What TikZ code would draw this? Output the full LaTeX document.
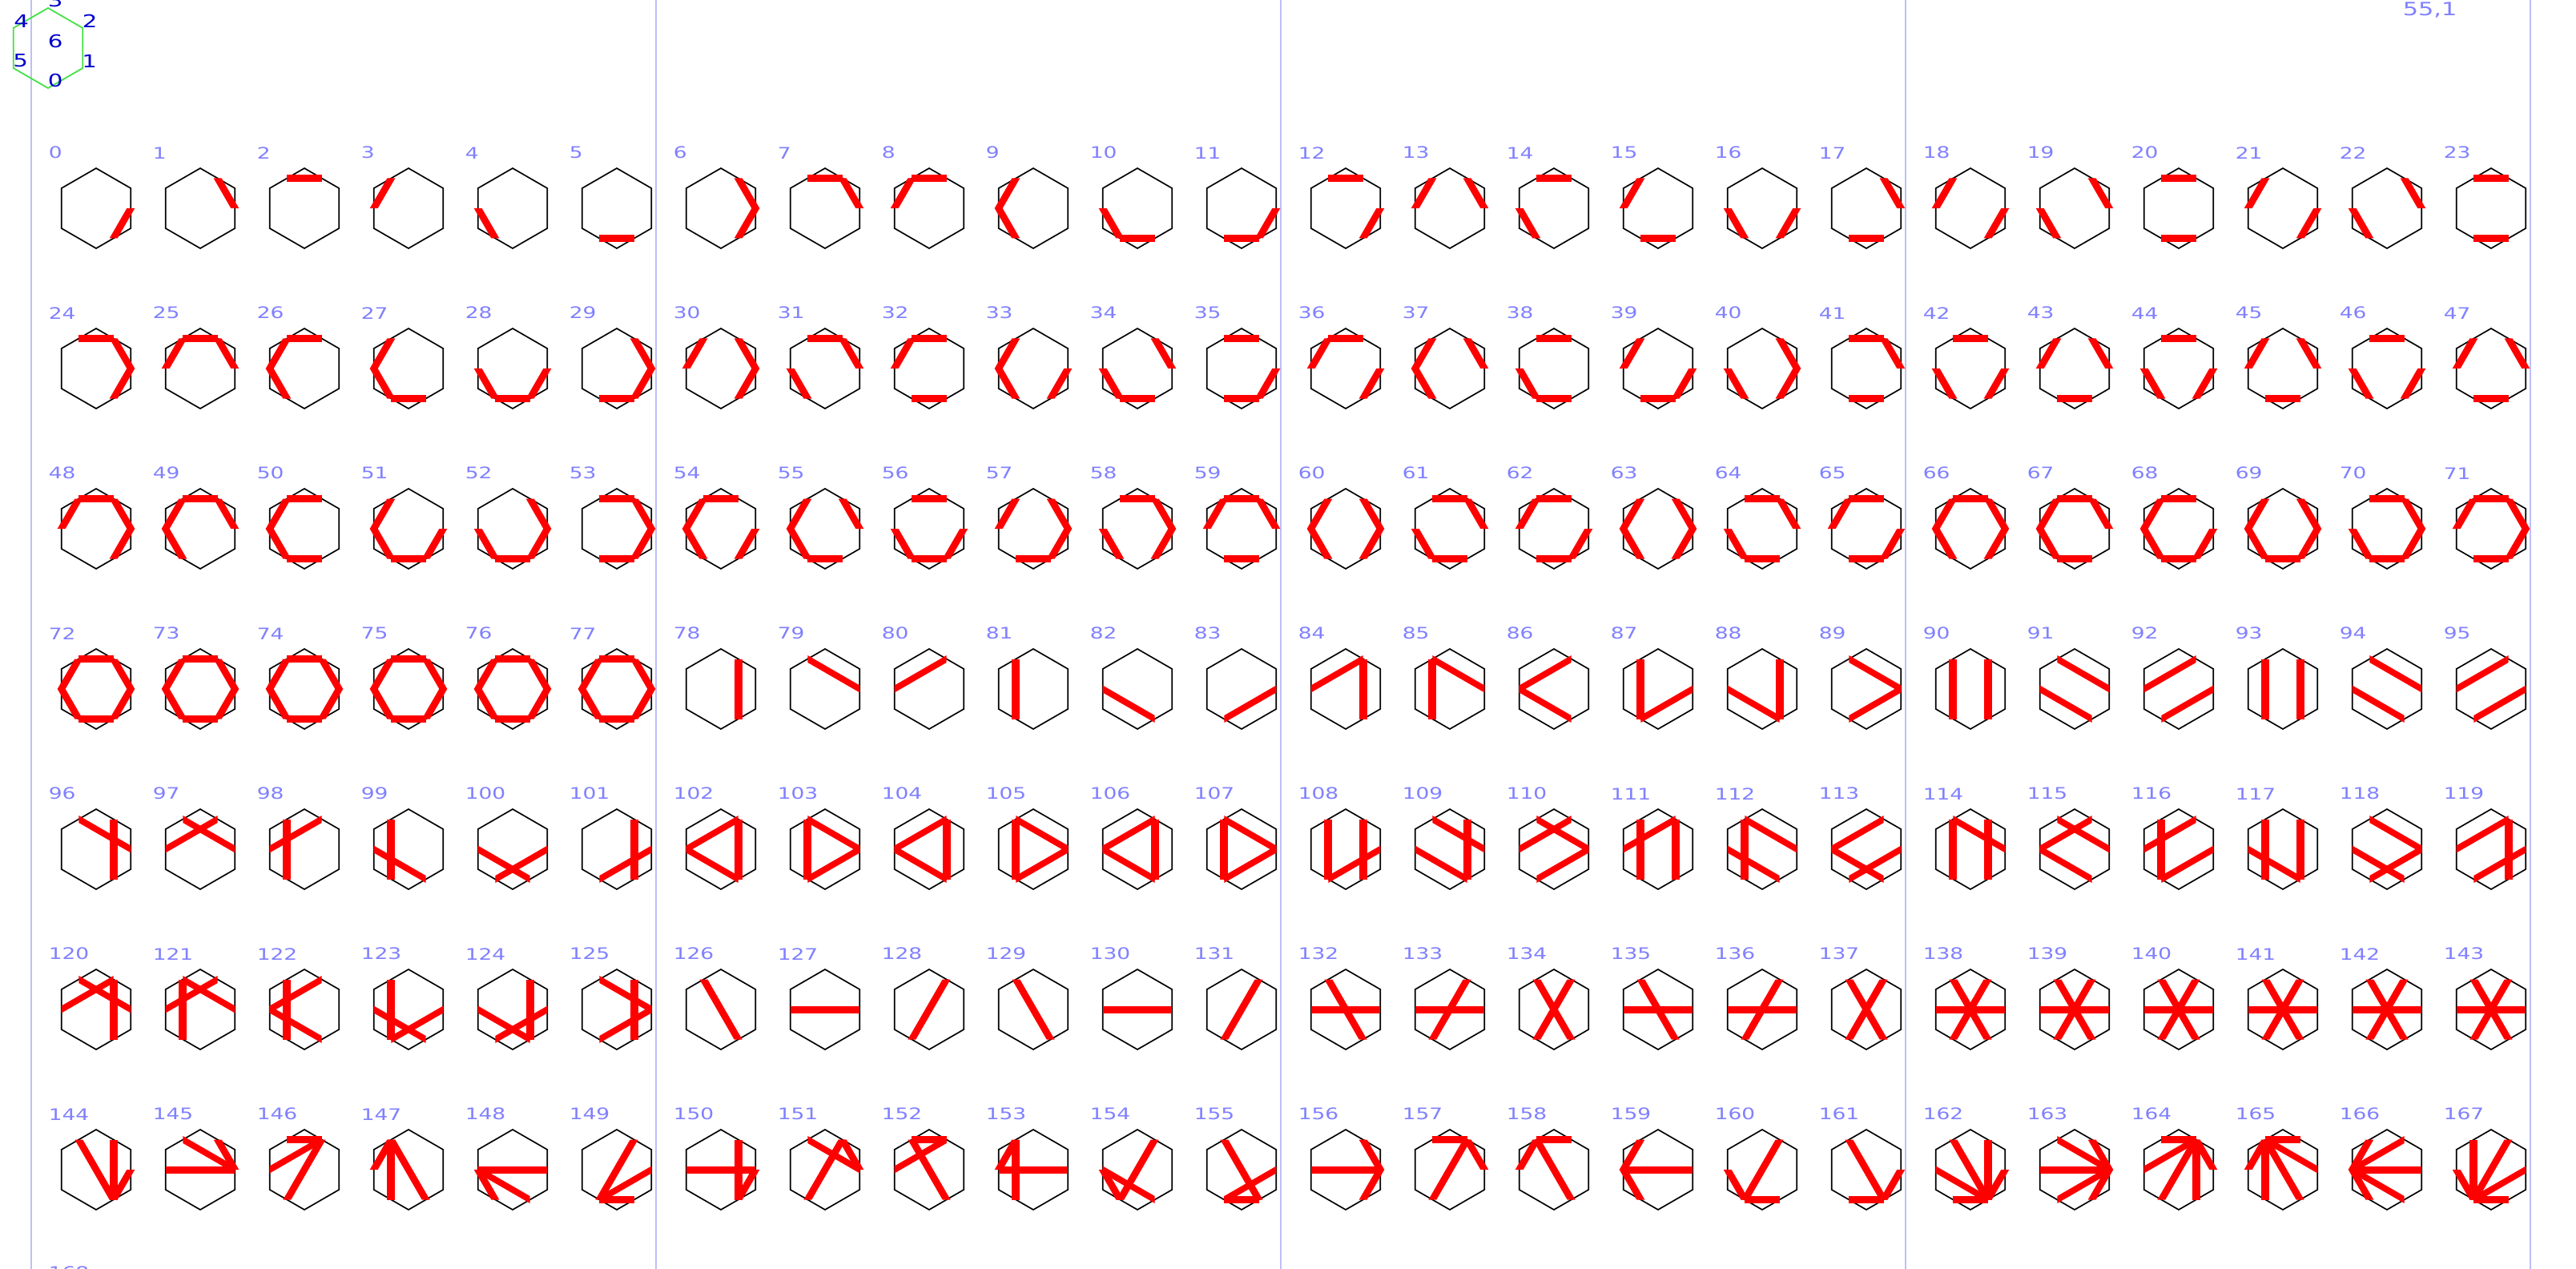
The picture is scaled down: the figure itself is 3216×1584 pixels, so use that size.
\documentclass[tikz,border=0pt]{standalone}
\usepackage{fontspec}
\setmainfont{DejaVu Sans}
\usepackage{graphicx}
\definecolor{lab}{RGB}{128,128,255}
\definecolor{legblue}{RGB}{0,0,205}
\definecolor{leggreen}{RGB}{70,225,70}
\definecolor{sep}{RGB}{190,190,250}
\definecolor{tilered}{RGB}{255,0,0}
\newcommand\hexoutline[3]{%
  \draw[#1] ({#2+43.30127},{#3-25}) -- ({#2},{#3-50}) -- ({#2-43.30127},{#3-25})
    -- ({#2-43.30127},{#3+25}) -- ({#2},{#3+50}) -- ({#2+43.30127},{#3+25}) -- cycle;}
\newcommand\redseg[4]{%
  \pgfmathsetmacro\xa{#1+43.30127*cos(-60+60*#3)}%
  \pgfmathsetmacro\ya{#2-43.30127*sin(-60+60*#3)}%
  \pgfmathsetmacro\xb{#1+43.30127*cos(-60+60*#4)}%
  \pgfmathsetmacro\yb{#2-43.30127*sin(-60+60*#4)}%
  \pgfmathtruncatemacro\isx{abs(\xb-\xa)>=abs(\yb-\ya)}%
  \ifnum\isx=1
    \fill[tilered] (\xa,{\ya-4.5}) -- (\xb,{\yb-4.5}) -- (\xb,{\yb+4.5}) -- (\xa,{\ya+4.5}) -- cycle;
  \else
    \fill[tilered] ({\xa-5},\ya) -- ({\xb-5},\yb) -- ({\xb+5},\yb) -- ({\xa+5},\ya) -- cycle;
  \fi}
\newcommand\widen[1]{\scalebox{1.33}[1]{#1}}
\begin{document}
\begin{tikzpicture}[x=0.25pt,y=-0.25pt,
  hexline/.style={draw=black,line width=0.42pt},
  leghex/.style={draw=leggreen,line width=0.45pt},
  sepline/.style={draw=sep,line width=0.55pt},
  tilelabel/.style={anchor=south west,inner sep=0pt,text=lab,font=\fontsize{4.97}{6}\selectfont},
  leglabel/.style={anchor=south west,inner sep=0pt,text=legblue,font=\fontsize{5.5}{6.5}\selectfont},
  poslabel/.style={anchor=base west,inner sep=0pt,text=lab,font=\fontsize{5.7}{7}\selectfont}]
\useasboundingbox (0,0) rectangle (3216,1584);
\clip (0,0) rectangle (3216,1584);
\fill[white] (0,0) rectangle (3216,1584);
% separators
\foreach \k in {0,...,4} {
  \coordinate (st\k) at ({39+780*\k},0);
  \coordinate (sb\k) at ({39+780*\k},1584);
  \draw[sepline] (st\k) -- (sb\k);
}
% legend
\hexoutline{leghex}{60}{60}
\node[leglabel] (v0) at (59,110) {\widen{0}};
\node[leglabel] (v1) at (101.5,85) {\widen{1}};
\node[leglabel] (v2) at (102,35) {\widen{2}};
\node[leglabel] (v3) at (59,10) {\widen{3}};
\node[leglabel] (v4) at (16.5,35) {\widen{4}};
\node[leglabel] (v5) at (15.5,85) {\widen{5}};
\node[leglabel] (v6) at (59,61) {\widen{6}};
\node[poslabel] (pos) at (2999,19.5) {\widen{55,1}};
% tiles
\foreach \pp/\sgl in {0/{01},1/{01,12},2/{01,23},3/{01,34},4/{01,12,23},5/{01,12,34},
  6/{01,23,34},7/{01,23,45},8/{01,12,23,34},9/{01,23,34,45},10/{01,12,34,45},
  11/{01,12,23,34,45},12/{01,12,23,34,45,50},13/{02},14/{02,24},15/{02,35},
  16/{02,13},17/{02,24,40},18/{02,35,51},19/{02,13,35},20/{02,13,24},21/{03},
  22/{03,14},23/{03,14,25},24/{01,02,03},25/{01,02,14},26/{01,12,14},
  27/{01,02,03,04,05}} {
  \foreach \rr in {0,...,5} {
    \pgfmathtruncatemacro\tn{6*\pp+\rr}
    \pgfmathsetmacro\cx{120+130*mod(\tn,24)}
    \pgfmathsetmacro\cy{260+200*div(\tn,24)}
    \hexoutline{hexline}{\cx}{\cy}
    \node[tilelabel] (lab\tn) at ({\cx-60},{\cy-61}) {\widen{\tn}};
    \foreach \sg in \sgl {
      \pgfmathtruncatemacro\ia{mod(div(\sg,10)+\rr,6)}
      \pgfmathtruncatemacro\ja{mod(mod(\sg,10)+\rr,6)}
      \redseg{\cx}{\cy}{\ia}{\ja}
    }
  }
}
\node[tilelabel] (lab168) at (60,1597) {\widen{168}};
\end{tikzpicture}
\end{document}
